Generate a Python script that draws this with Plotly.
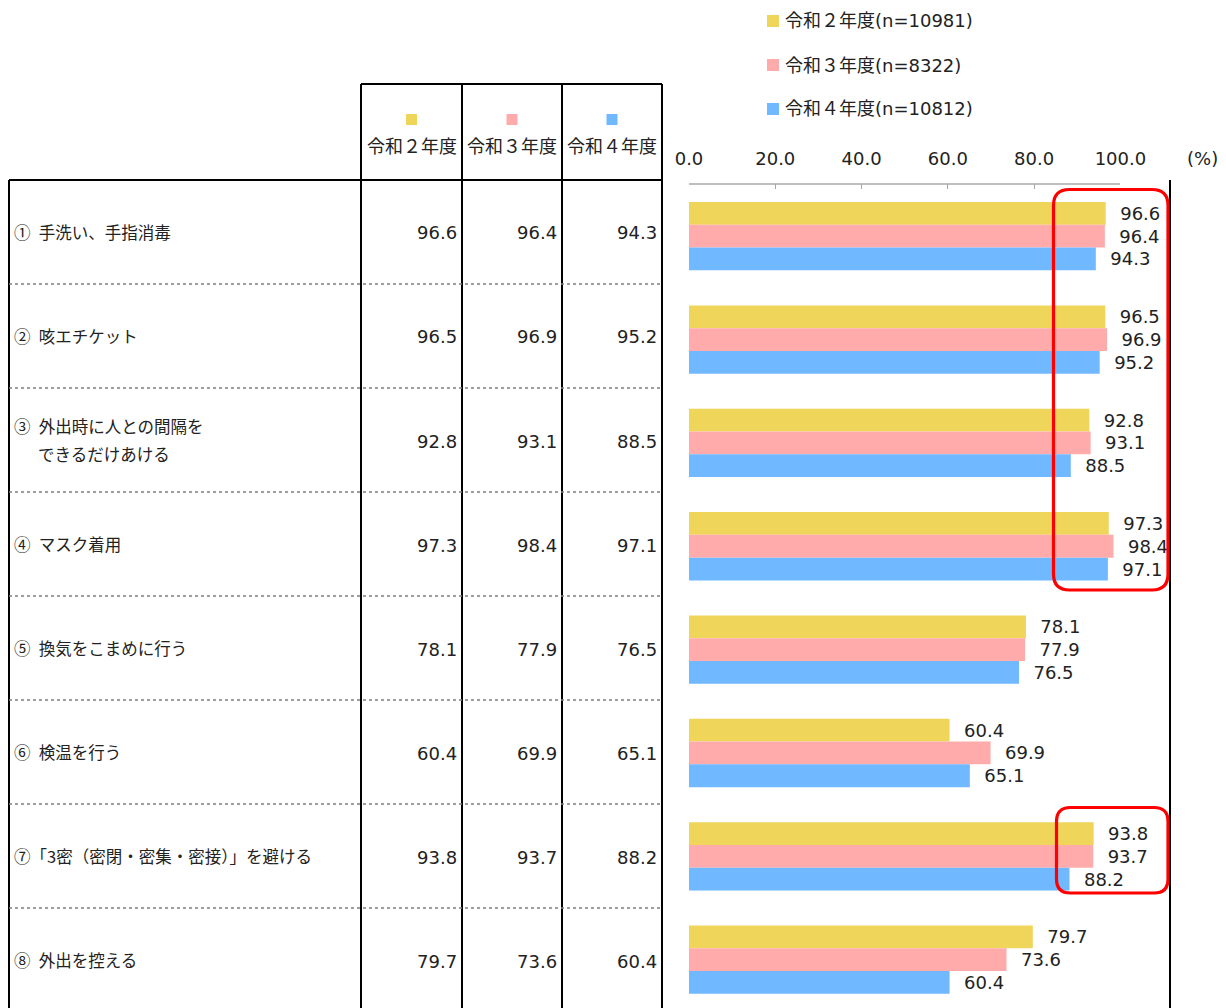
import plotly.graph_objects as go

# ---------------- data ----------------
categories = [
    "① 手洗い、手指消毒",
    "② 咳エチケット",
    "③ 外出時に人との間隔を\nできるだけあける",
    "④ マスク着用",
    "⑤ 換気をこまめに行う",
    "⑥ 検温を行う",
    "⑦「3密（密閉・密集・密接）」を避ける",
    "⑧ 外出を控える",
]
series_names = ["令和２年度", "令和３年度", "令和４年度"]
sample_sizes = [10981, 8322, 10812]
r2_values = [96.6, 96.5, 92.8, 97.3, 78.1, 60.4, 93.8, 79.7]
r3_values = [96.4, 96.9, 93.1, 98.4, 77.9, 69.9, 93.7, 73.6]
r4_values = [94.3, 95.2, 88.5, 97.1, 76.5, 65.1, 88.2, 60.4]
x_tick_values = [0, 20, 40, 60, 80, 100]

# ---------------- styling ----------------
W, H = 1226, 1008
OFF = 8  # page body margin
colors = ["#EFD55A", "#FFABAB", "#70B8FF"]
NUM_FONT = "DejaVu Sans, Noto Sans CJK JP, sans-serif"
JP_FONT = "Noto Sans CJK JP, DejaVu Sans, sans-serif"
TXT = "#222222"


def X(px):
    return (px - OFF) / W


def Y(py):
    return 1 - (py - OFF) / H


series = [r2_values, r3_values, r4_values]

fig = go.Figure()
for name, vals, col in zip(series_names, series, colors):
    fig.add_trace(go.Bar(
        y=categories, x=vals, orientation="h", name=name,
        marker=dict(color=col, line=dict(width=0)),
        texttemplate="\u00a0\u00a0%{x:.1f}", textposition="outside",
        textfont=dict(family=NUM_FONT, size=18, color=TXT),
        constraintext="none", cliponaxis=False, hoverinfo="x+name",
    ))

plot_top = 184.5
band_px = 103.36
units = (H + OFF - plot_top) / band_px

fig.update_layout(
    width=W, height=H,
    margin=dict(l=0, r=0, t=0, b=0, autoexpand=False),
    plot_bgcolor="white", paper_bgcolor="white",
    barmode="group", bargap=0.339, bargroupgap=0,
    showlegend=False,
    font=dict(family=NUM_FONT, size=18, color=TXT),
    xaxis=dict(
        domain=[X(689), X(1120.4)], range=[0, 100], side="top",
        tickvals=x_tick_values, tickformat=".1f",
        ticks="inside", ticklen=5, tickcolor="#a6a6a6", tickwidth=1,
        showline=True, linecolor="#bfbfbf", linewidth=1.5,
        showgrid=False, zeroline=False, ticklabelstandoff=11,
        automargin=False,
        tickfont=dict(family=NUM_FONT, size=18, color=TXT),
    ),
    yaxis=dict(
        domain=[0, Y(plot_top)], type="category",
        categoryorder="array", categoryarray=categories,
        range=[-0.5 + units, -0.5],
        showticklabels=False, showline=False, showgrid=False,
        zeroline=False, ticks="", automargin=False,
    ),
)

shapes = []
annotations = []

# "(%)" unit label
annotations.append(dict(x=X(1202), y=Y(158), xref="paper", yref="paper",
                        text="(%)", showarrow=False, xanchor="center",
                        yanchor="middle", font=dict(family=NUM_FONT, size=18, color=TXT)))

# legend at top
for k, (name, n, col) in enumerate(zip(series_names, sample_sizes, colors)):
    cy = 21 + 44 * k
    shapes.append(dict(type="rect", xref="paper", yref="paper",
                       x0=X(767), x1=X(779), y0=Y(cy - 6), y1=Y(cy + 6),
                       fillcolor=col, line=dict(width=0)))
    annotations.append(dict(x=X(783), y=Y(cy), xref="paper", yref="paper",
                            text=f"{name}(n={n})", showarrow=False,
                            xanchor="left", yanchor="middle",
                            font=dict(family=NUM_FONT, size=18, color=TXT)))

# ---------------- table ----------------
BLACK = dict(color="black", width=2)
col_lines = [361, 462, 562, 662]
table_top_header = 84
table_top = 180
row_h = 104
BOTTOM = H + OFF

# header box
shapes.append(dict(type="line", xref="paper", yref="paper",
                   x0=X(361), x1=X(662), y0=Y(table_top_header), y1=Y(table_top_header), line=BLACK))
for cx in col_lines:
    shapes.append(dict(type="line", xref="paper", yref="paper",
                       x0=X(cx), x1=X(cx), y0=Y(table_top_header), y1=Y(BOTTOM), line=BLACK))
# left border and top border of body
shapes.append(dict(type="line", xref="paper", yref="paper",
                   x0=X(9), x1=X(9), y0=Y(table_top), y1=Y(BOTTOM), line=BLACK))
shapes.append(dict(type="line", xref="paper", yref="paper",
                   x0=X(9), x1=X(662), y0=Y(table_top), y1=Y(table_top), line=BLACK))
# right border of chart region
shapes.append(dict(type="line", xref="paper", yref="paper",
                   x0=X(1170), x1=X(1170), y0=Y(table_top), y1=Y(BOTTOM), line=BLACK))
# dotted row separators
for i in range(1, len(categories)):
    yy = table_top + row_h * i
    shapes.append(dict(type="line", xref="paper", yref="paper",
                       x0=X(9), x1=X(662), y0=Y(yy), y1=Y(yy),
                       line=dict(color="#7f7f7f", width=1.5, dash="dot")))

# header cells
for j, (name, col) in enumerate(zip(series_names, colors)):
    cx = (col_lines[j] + col_lines[j + 1]) / 2
    shapes.append(dict(type="rect", xref="paper", yref="paper",
                       x0=X(cx - 5.5), x1=X(cx + 5.5), y0=Y(114), y1=Y(125),
                       fillcolor=col, line=dict(width=0)))
    annotations.append(dict(x=X(cx), y=Y(145), xref="paper", yref="paper",
                            text=name, showarrow=False, xanchor="center",
                            yanchor="middle", font=dict(family=JP_FONT, size=18, color=TXT)))

# body cells
for i, cat in enumerate(categories):
    rc = table_top + row_h * i + 52
    lines = cat.split("\n")
    n = len(lines)
    for k, ln in enumerate(lines):
        ly = rc + (k - (n - 1) / 2) * 27
        annotations.append(dict(x=X(12 if k == 0 else 36), y=Y(ly), xref="paper", yref="paper",
                                text=ln.replace(" ", "\u2002", 1), showarrow=False, xanchor="left",
                                yanchor="middle", font=dict(family=JP_FONT, size=16.5, color=TXT)))
    for j, vals in enumerate(series):
        annotations.append(dict(x=X(col_lines[j + 1] - 3), y=Y(rc + 1), xref="paper", yref="paper",
                                text=f"{vals[i]:.1f}", showarrow=False, xanchor="right",
                                yanchor="middle", font=dict(family=NUM_FONT, size=18, color=TXT)))


# ---------------- red highlight boxes ----------------
def rounded_rect(x0, y0, x1, y1, r):
    pts = [
        ("M", (x0 + r, y0)), ("L", (x1 - r, y0)),
        ("Q", (x1, y0), (x1, y0 + r)), ("L", (x1, y1 - r)),
        ("Q", (x1, y1), (x1 - r, y1)), ("L", (x0 + r, y1)),
        ("Q", (x0, y1), (x0, y1 - r)), ("L", (x0, y0 + r)),
        ("Q", (x0, y0), (x0 + r, y0)),
    ]
    out = []
    for cmd, *ps in pts:
        out.append(cmd + " " + " ".join(f"{X(px):.5f},{Y(py):.5f}" for px, py in ps))
    return " ".join(out) + " Z"


for (bx0, by0, bx1, by1, rr) in [(1053.5, 189.5, 1168, 590, 16), (1056.5, 807.5, 1168, 893, 14)]:
    shapes.append(dict(type="path", xref="paper", yref="paper",
                       path=rounded_rect(bx0, by0, bx1, by1, rr),
                       line=dict(color="#FF0000", width=3.2), fillcolor="rgba(0,0,0,0)"))

fig.update_layout(shapes=shapes, annotations=annotations)
fig.write_html("out.html")
